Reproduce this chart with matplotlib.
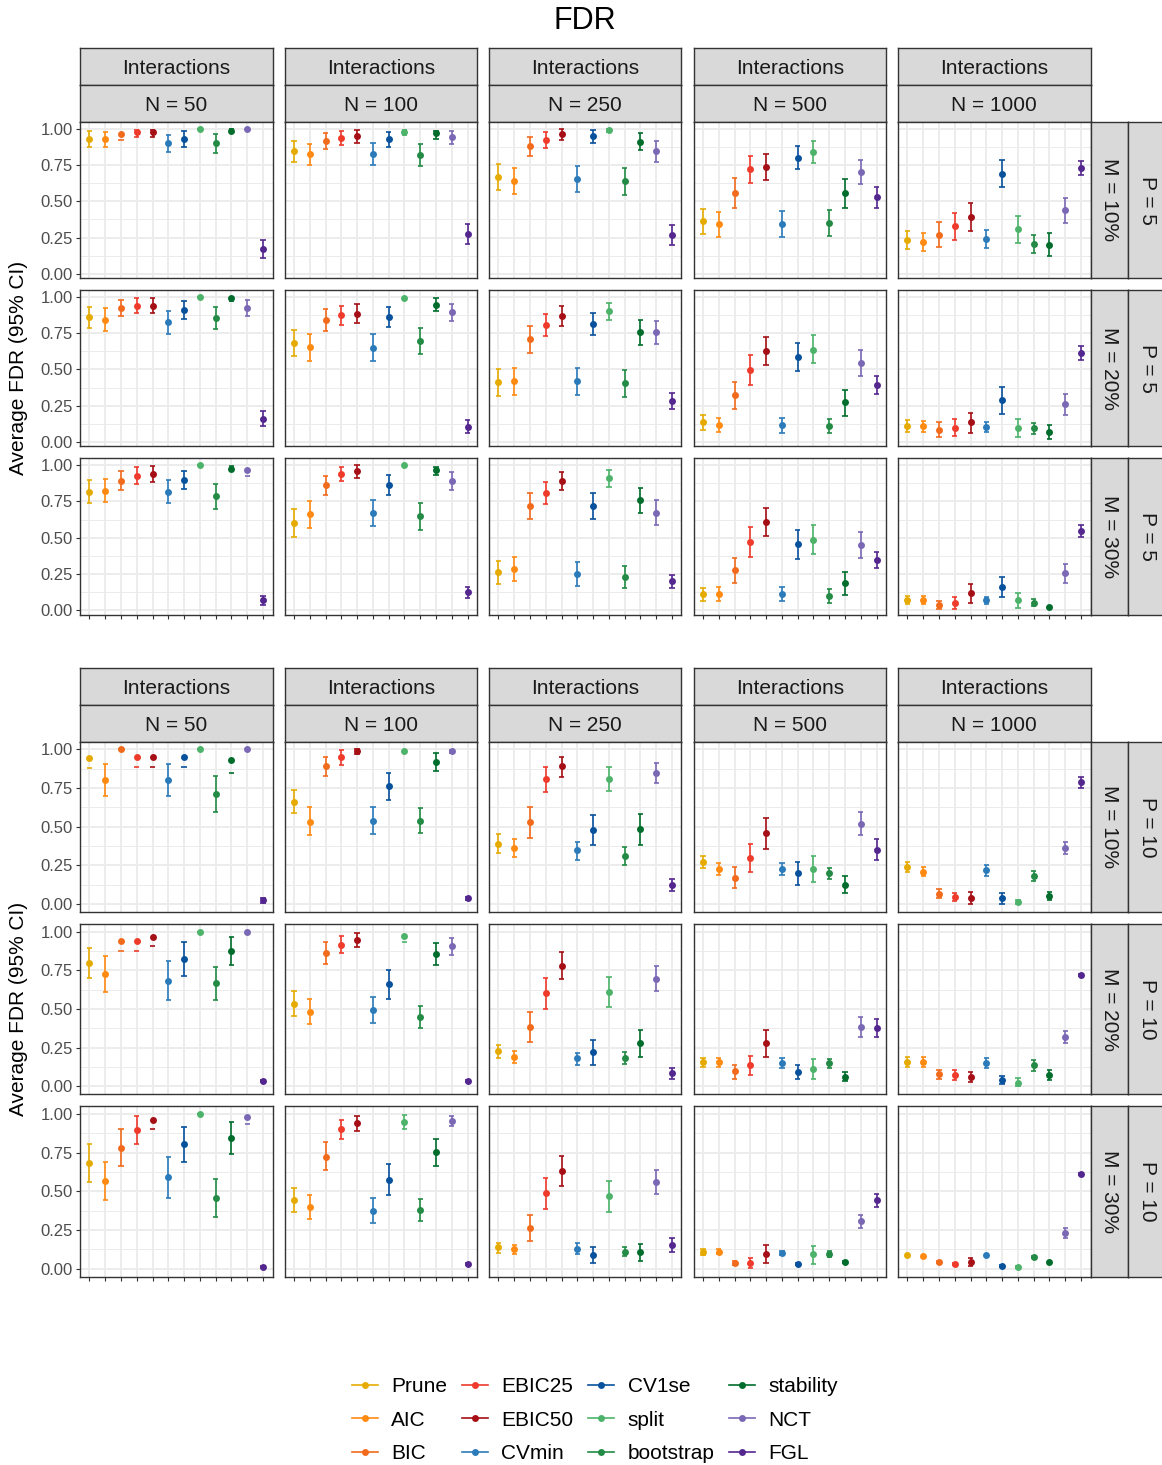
import numpy as np
import matplotlib
matplotlib.use("Agg")
import matplotlib.pyplot as plt
from matplotlib.lines import Line2D

plt.rcParams['font.family'] = ['Liberation Sans', 'DejaVu Sans']

# ---------------------------------------------------------------- data
methods = ["Prune", "AIC", "BIC", "EBIC25", "EBIC50", "CVmin",
           "CV1se", "split", "bootstrap", "stability", "NCT", "FGL"]
colors = ["#E6AB02", "#FF8A12", "#F26B1D", "#EF3B2C", "#A50F15", "#2B7BBA",
          "#08519C", "#4DB36A", "#238B45", "#006D2C", "#7B68B5", "#54278F"]
sample_sizes = ["N = 50", "N = 100", "N = 250", "N = 500", "N = 1000"]
missing_levels = ["M = 10%", "M = 20%", "M = 30%"]
node_counts = ["P = 5", "P = 10"]
model_label = "Interactions"

nan = np.nan

# P = 5 ; rows are N = 50, 100, 250, 500, 1000 ; columns follow `methods`
fdr_p5_m10 = [
    [0.929, 0.929, 0.963, 0.975, 0.975, 0.899, 0.926, 1.000, 0.899, 0.986, 1.000, 0.168],
    [0.846, 0.823, 0.917, 0.938, 0.947, 0.823, 0.926, 0.979, 0.818, 0.968, 0.940, 0.274],
    [0.667, 0.637, 0.878, 0.920, 0.961, 0.653, 0.947, 0.989, 0.639, 0.910, 0.846, 0.269],
    [0.363, 0.340, 0.559, 0.720, 0.738, 0.343, 0.800, 0.841, 0.352, 0.554, 0.701, 0.526],
    [0.234, 0.221, 0.271, 0.329, 0.393, 0.241, 0.690, 0.308, 0.207, 0.200, 0.437, 0.731]]
lo_p5_m10 = [
    [0.874, 0.874, 0.922, 0.945, 0.945, 0.841, 0.871, 1.000, 0.834, 0.970, 1.000, 0.106],
    [0.772, 0.749, 0.860, 0.887, 0.901, 0.749, 0.871, 0.956, 0.743, 0.929, 0.894, 0.209],
    [0.579, 0.547, 0.811, 0.864, 0.922, 0.563, 0.899, 0.980, 0.545, 0.851, 0.772, 0.200],
    [0.276, 0.253, 0.455, 0.628, 0.648, 0.253, 0.722, 0.763, 0.260, 0.455, 0.616, 0.455],
    [0.170, 0.156, 0.182, 0.234, 0.294, 0.177, 0.598, 0.214, 0.143, 0.120, 0.349, 0.678]]
hi_p5_m10 = [
    [0.984, 0.979, nan, 0.990, 0.990, 0.956, 0.984, 1.000, 0.963, 1.000, 1.000, 0.230],
    [0.917, 0.897, 0.970, 0.986, 0.991, 0.899, 0.979, 0.990, 0.894, 0.984, 0.986, 0.340],
    [0.754, 0.729, 0.943, 0.975, 0.998, 0.740, 0.991, 0.995, 0.731, 0.968, 0.915, 0.336],
    [0.446, 0.423, 0.660, 0.809, 0.828, 0.430, 0.880, 0.915, 0.439, 0.655, 0.784, 0.595],
    [0.294, 0.283, 0.354, 0.421, 0.490, 0.301, 0.782, 0.400, 0.267, 0.278, 0.524, 0.779]]

fdr_p5_m20 = [
    [0.860, 0.844, 0.924, 0.940, 0.940, 0.825, 0.910, 1.000, 0.855, 0.989, 0.924, 0.161],
    [0.683, 0.655, 0.844, 0.876, 0.883, 0.651, 0.864, 0.989, 0.697, 0.947, 0.897, 0.106],
    [0.414, 0.421, 0.708, 0.809, 0.869, 0.418, 0.816, 0.901, 0.407, 0.759, 0.756, 0.283],
    [0.136, 0.117, 0.326, 0.499, 0.628, 0.115, 0.589, 0.637, 0.110, 0.274, 0.547, 0.393],
    [0.110, 0.108, 0.085, 0.099, 0.136, 0.103, 0.287, 0.099, 0.094, 0.067, 0.260, 0.614]]
lo_p5_m20 = [
    [0.789, 0.763, 0.867, 0.887, 0.887, 0.743, 0.846, 1.000, 0.779, 0.972, 0.871, 0.108],
    [0.591, 0.559, 0.768, 0.805, 0.818, 0.556, 0.795, 0.982, 0.605, 0.901, 0.837, 0.060],
    [0.320, 0.326, 0.616, 0.731, 0.802, 0.322, 0.736, 0.839, 0.313, 0.671, 0.678, 0.225],
    [0.080, 0.067, 0.230, 0.395, 0.531, 0.064, 0.490, 0.543, 0.060, 0.182, 0.455, 0.331],
    [0.071, 0.071, 0.032, 0.041, 0.064, 0.069, 0.195, 0.037, 0.057, 0.018, 0.186, 0.566]]
hi_p5_m20 = [
    [0.929, 0.922, 0.979, 0.991, 0.991, 0.906, 0.970, 1.000, 0.929, 1.000, 0.975, 0.214],
    [0.770, 0.747, 0.917, 0.940, 0.949, 0.743, 0.933, 0.995, 0.784, 0.991, 0.954, 0.149],
    [0.506, 0.513, 0.798, 0.885, 0.936, 0.513, 0.892, 0.961, 0.497, 0.844, 0.832, 0.338],
    [0.189, 0.166, 0.416, 0.600, 0.726, 0.163, 0.685, 0.736, 0.159, 0.361, 0.637, 0.455],
    [0.149, 0.145, 0.136, 0.156, 0.202, 0.138, 0.379, 0.159, 0.131, 0.115, 0.329, 0.660]]

fdr_p5_m30 = [
    [0.816, 0.823, 0.892, 0.926, 0.938, 0.816, 0.899, 1.000, 0.784, 0.975, 0.963, 0.071],
    [0.602, 0.662, 0.860, 0.938, 0.956, 0.669, 0.864, 1.000, 0.646, 0.968, 0.887, 0.124],
    [0.264, 0.285, 0.717, 0.809, 0.890, 0.251, 0.720, 0.910, 0.232, 0.756, 0.669, 0.202],
    [0.110, 0.113, 0.278, 0.471, 0.607, 0.115, 0.457, 0.487, 0.101, 0.189, 0.451, 0.347],
    [0.074, 0.071, 0.037, 0.051, 0.120, 0.071, 0.163, 0.071, 0.053, 0.023, 0.255, 0.547]]
lo_p5_m30 = [
    [0.736, 0.747, 0.825, 0.871, 0.885, 0.736, 0.834, 1.000, 0.697, 0.956, 0.922, 0.037],
    [0.506, 0.568, 0.793, 0.890, 0.913, 0.577, 0.795, 1.000, 0.552, 0.931, 0.825, 0.083],
    [0.184, 0.202, 0.628, 0.731, 0.825, 0.170, 0.628, 0.848, 0.156, 0.669, 0.584, 0.156],
    [0.064, 0.067, 0.191, 0.370, 0.510, 0.067, 0.356, 0.386, 0.053, 0.108, 0.363, 0.294],
    [0.046, 0.044, 0.007, 0.009, 0.053, 0.046, 0.090, 0.018, 0.032, 0.015, 0.191, 0.506]]
hi_p5_m30 = [
    [0.894, 0.903, 0.959, 0.984, 0.991, 0.899, 0.961, 1.000, 0.867, 0.991, nan, 0.099],
    [0.694, 0.754, 0.926, 0.984, 0.998, 0.761, 0.933, 1.000, 0.736, 0.984, 0.949, 0.163],
    [0.340, 0.368, 0.807, 0.885, 0.949, 0.329, 0.807, 0.963, 0.303, 0.844, 0.756, 0.246],
    [0.156, 0.161, 0.363, 0.570, 0.703, 0.161, 0.554, 0.586, 0.147, 0.264, 0.536, 0.398],
    [0.099, 0.099, 0.064, 0.090, 0.179, 0.094, 0.230, 0.120, 0.076, 0.032, 0.317, 0.584]]

# P = 10
fdr_p10_m10 = [
    [0.946, 0.804, 1.000, 0.953, 0.953, 0.802, 0.953, 1.000, 0.711, 0.929, 1.000, 0.026],
    [0.662, 0.534, 0.890, 0.948, 0.989, 0.539, 0.761, 0.989, 0.539, 0.918, 0.989, 0.039],
    [0.392, 0.366, 0.528, 0.806, 0.892, 0.349, 0.478, 0.810, 0.313, 0.483, 0.847, 0.123],
    [0.274, 0.228, 0.172, 0.297, 0.457, 0.228, 0.203, 0.226, 0.200, 0.125, 0.519, 0.353],
    [0.239, 0.209, 0.067, 0.045, 0.041, 0.218, 0.037, 0.011, 0.181, 0.052, 0.364, 0.789]]
lo_p10_m10 = [
    [0.877, 0.698, 1.000, 0.888, 0.888, 0.698, 0.888, 1.000, 0.595, 0.849, 1.000, 0.010],
    [0.586, 0.446, 0.828, 0.901, 0.968, 0.453, 0.675, 0.980, 0.457, 0.862, 0.980, 0.030],
    [0.330, 0.308, 0.429, 0.724, 0.825, 0.287, 0.381, 0.731, 0.252, 0.381, 0.782, 0.082],
    [0.231, 0.188, 0.103, 0.207, 0.356, 0.188, 0.127, 0.142, 0.164, 0.071, 0.446, 0.284],
    [0.207, 0.181, 0.037, 0.019, 0.004, 0.185, 0.004, 0.000, 0.147, 0.024, 0.325, 0.752]]
hi_p10_m10 = [
    [nan, 0.909, 1.000, nan, nan, 0.905, nan, 1.000, 0.828, nan, 1.000, 0.040],
    [0.737, 0.625, 0.953, 0.994, 1.000, 0.629, 0.845, 0.998, 0.623, 0.974, 0.998, 0.048],
    [0.453, 0.420, 0.629, 0.884, 0.953, 0.403, 0.575, 0.886, 0.369, 0.582, 0.912, 0.164],
    [0.313, 0.267, 0.237, 0.386, 0.554, 0.267, 0.274, 0.310, 0.235, 0.181, 0.593, 0.418],
    [0.272, 0.237, 0.097, 0.071, 0.080, 0.250, 0.069, 0.025, 0.216, 0.080, 0.401, 0.823]]

fdr_p10_m20 = [
    [0.800, 0.724, 0.942, 0.942, 0.963, 0.683, 0.825, 1.000, 0.666, 0.875, 1.000, 0.032],
    [0.534, 0.483, 0.864, 0.916, 0.948, 0.494, 0.659, 0.972, 0.450, 0.858, 0.905, 0.032],
    [0.226, 0.192, 0.386, 0.601, 0.780, 0.181, 0.220, 0.610, 0.183, 0.278, 0.696, 0.086],
    [0.155, 0.155, 0.097, 0.138, 0.278, 0.151, 0.095, 0.114, 0.149, 0.062, 0.386, 0.379],
    [0.157, 0.157, 0.080, 0.071, 0.060, 0.151, 0.039, 0.024, 0.138, 0.073, 0.319, 0.722]]
lo_p10_m20 = [
    [0.698, 0.608, 0.877, 0.877, 0.905, 0.558, 0.716, 1.000, 0.560, 0.784, 1.000, 0.025],
    [0.455, 0.401, 0.793, 0.860, 0.901, 0.409, 0.565, 0.933, 0.377, 0.787, 0.847, 0.025],
    [0.183, 0.151, 0.289, 0.502, 0.694, 0.140, 0.140, 0.513, 0.147, 0.190, 0.616, 0.050],
    [0.125, 0.125, 0.045, 0.075, 0.190, 0.121, 0.050, 0.050, 0.121, 0.032, 0.321, 0.319],
    [0.127, 0.127, 0.050, 0.039, 0.028, 0.119, 0.013, 0.000, 0.101, 0.041, 0.280, 0.715]]
hi_p10_m20 = [
    [0.897, 0.841, nan, nan, nan, 0.808, 0.931, 1.000, 0.772, 0.968, 1.000, 0.040],
    [0.614, 0.567, 0.931, 0.972, 0.994, 0.578, 0.752, nan, 0.519, 0.929, 0.961, 0.040],
    [0.269, 0.231, 0.481, 0.698, 0.866, 0.218, 0.300, 0.707, 0.222, 0.364, 0.776, 0.119],
    [0.183, 0.183, 0.140, 0.198, 0.364, 0.183, 0.140, 0.177, 0.177, 0.093, 0.448, 0.435],
    [0.188, 0.188, 0.108, 0.103, 0.093, 0.183, 0.069, 0.054, 0.172, 0.103, 0.356, 0.729]]

fdr_p10_m30 = [
    [0.683, 0.565, 0.780, 0.897, 0.959, 0.591, 0.802, 1.000, 0.459, 0.843, 0.981, 0.011],
    [0.444, 0.401, 0.724, 0.899, 0.938, 0.375, 0.575, 0.948, 0.379, 0.752, 0.953, 0.030],
    [0.138, 0.127, 0.263, 0.487, 0.629, 0.129, 0.086, 0.466, 0.110, 0.106, 0.558, 0.153],
    [0.108, 0.108, 0.034, 0.037, 0.097, 0.099, 0.028, 0.093, 0.095, 0.041, 0.306, 0.444],
    [0.086, 0.084, 0.041, 0.030, 0.041, 0.088, 0.017, 0.009, 0.073, 0.041, 0.228, 0.612]]
lo_p10_m30 = [
    [0.560, 0.442, 0.664, 0.808, 0.901, 0.457, 0.688, 1.000, 0.336, 0.739, 0.935, 0.005],
    [0.366, 0.323, 0.636, 0.836, 0.888, 0.295, 0.476, 0.901, 0.310, 0.666, 0.920, 0.024],
    [0.103, 0.095, 0.177, 0.388, 0.532, 0.097, 0.034, 0.366, 0.080, 0.047, 0.481, 0.106],
    [0.090, 0.092, 0.022, 0.004, 0.037, 0.086, 0.020, 0.032, 0.073, 0.033, 0.265, 0.401],
    [0.080, 0.078, 0.035, 0.024, 0.017, 0.082, 0.011, 0.003, 0.067, 0.035, 0.200, 0.606]]
hi_p10_m30 = [
    [0.808, 0.690, 0.899, 0.985, nan, 0.724, 0.918, 1.000, 0.580, 0.946, nan, 0.017],
    [0.519, 0.476, 0.815, 0.959, 0.989, 0.453, 0.675, 0.994, 0.448, 0.838, 0.985, 0.036],
    [0.168, 0.155, 0.347, 0.586, 0.726, 0.162, 0.140, 0.565, 0.140, 0.159, 0.634, 0.196],
    [0.126, 0.124, 0.046, 0.067, 0.153, 0.112, 0.036, 0.149, 0.116, 0.049, 0.345, 0.483],
    [0.092, 0.090, 0.047, 0.036, 0.065, 0.094, 0.023, 0.015, 0.079, 0.047, 0.259, 0.618]]

y_breaks = [0.0, 0.25, 0.50, 0.75, 1.00]
y_tick_labels = ["0.00", "0.25", "0.50", "0.75", "1.00"]
y_minor = [0.125, 0.375, 0.625, 0.875]

# ---------------------------------------------------------------- layout
W, H = 1162, 1465
fig = plt.figure(figsize=(W / 100, H / 100), dpi=100)

STRIP_FILL = "#D9D9D9"
BORDER = "#333333"
GRID = "#EBEBEB"
TEXT = "#1A1A1A"
TICKTXT = "#4D4D4D"


def box(x0, y0, x1, y1):
    return [x0 / W, 1 - y1 / H, (x1 - x0) / W, (y1 - y0) / H]


def strip(x0, y0, x1, y1, label, rotation=0):
    ax = fig.add_axes(box(x0, y0, x1, y1))
    ax.set_facecolor(STRIP_FILL)
    ax.set_xticks([])
    ax.set_yticks([])
    for s in ax.spines.values():
        s.set_color(BORDER)
        s.set_linewidth(1.0)
    if rotation:
        tx, ty = 0.5, 0.5
    else:
        tx, ty = 0.5, 0.45
    ax.text(tx, ty, label, transform=ax.transAxes, ha="center", va="center",
            fontsize=15, color=TEXT, rotation=rotation)
    return ax


def draw_panel(ax, mean, lo, hi, ylim, show_y, show_x):
    xs = np.arange(1, len(methods) + 1)
    ax.set_xlim(0.4, len(methods) + 0.6)
    ax.set_ylim(*ylim)
    ax.set_xticks(xs)
    ax.set_yticks(y_breaks)
    ax.set_yticks(y_minor, minor=True)
    ax.grid(which="major", color=GRID, linewidth=1.35)
    ax.grid(which="minor", axis="y", color=GRID, linewidth=0.7)
    ax.set_axisbelow(True)
    for s in ax.spines.values():
        s.set_color(BORDER)
        s.set_linewidth(1.0)
    ax.tick_params(which="minor", length=0)
    ax.tick_params(axis="x", labelbottom=False, length=3 if show_x else 0,
                   width=0.8, color=BORDER)
    if show_y:
        ax.set_yticklabels(y_tick_labels)
        ax.tick_params(axis="y", length=3, width=0.8, color=BORDER,
                       labelsize=12, labelcolor=TICKTXT, pad=2)
    else:
        ax.tick_params(axis="y", length=0, labelleft=False)

    cap = 0.17
    for i, c in enumerate(colors):
        m, l, h = mean[i], lo[i], hi[i]
        if np.isnan(h):
            ax.hlines(l, xs[i] - cap, xs[i] + cap, color=c, linewidth=1.2)
        else:
            ax.vlines(xs[i], l, h, color=c, linewidth=1.2)
            ax.hlines([l, h], xs[i] - cap, xs[i] + cap, color=c, linewidth=1.2)
        ax.plot(xs[i], m, "o", color=c, markersize=5, markeredgewidth=0, zorder=3)


col_x = [(80 + k * 204.5, 80 + k * 204.5 + 192.5) for k in range(5)]

blocks = [
    dict(p=node_counts[0], strip_top=48, row_top=121.7, row_h=156.5, row_step=168.2,
         ylim=(-0.030, 1.048),
         series=[(fdr_p5_m10, lo_p5_m10, hi_p5_m10),
                 (fdr_p5_m20, lo_p5_m20, hi_p5_m20),
                 (fdr_p5_m30, lo_p5_m30, hi_p5_m30)]),
    dict(p=node_counts[1], strip_top=668, row_top=741.7, row_h=170.5, row_step=182.2,
         ylim=(-0.052, 1.050),
         series=[(fdr_p10_m10, lo_p10_m10, hi_p10_m10),
                 (fdr_p10_m20, lo_p10_m20, hi_p10_m20),
                 (fdr_p10_m30, lo_p10_m30, hi_p10_m30)]),
]

for blk in blocks:
    st = blk["strip_top"]
    mid = (st + blk["row_top"]) / 2
    for c, (x0, x1) in enumerate(col_x):
        strip(x0, st, x1, mid, model_label)
        strip(x0, mid, x1, blk["row_top"], sample_sizes[c])
    for r in range(3):
        y0 = blk["row_top"] + r * blk["row_step"]
        y1 = y0 + blk["row_h"]
        mean_r, lo_r, hi_r = blk["series"][r]
        for c, (x0, x1) in enumerate(col_x):
            ax = fig.add_axes(box(x0, y0, x1, y1))
            draw_panel(ax, mean_r[c], lo_r[c], hi_r[c], blk["ylim"],
                       show_y=(c == 0), show_x=(r == 2))
        strip(col_x[-1][1], y0, 1128, y1, missing_levels[r], rotation=270)
        strip(1128, y0, 1167, y1, blk["p"], rotation=270)
    yc = (blk["row_top"] + blk["row_top"] + 2 * blk["row_step"] + blk["row_h"]) / 2
    fig.text(19 / W, 1 - yc / H, "Average FDR (95% CI)", rotation=90,
             ha="center", va="center", fontsize=15, color="black")

fig.text(585 / W, 1 - 21 / H, "FDR", ha="center", va="center", fontsize=22, color="black")

handles = [Line2D([0], [0], color=c, marker="o", markersize=5, linewidth=1.2,
                  markeredgewidth=0) for c in colors]
fig.legend(handles, methods, ncol=4, loc="center", bbox_to_anchor=(595 / W, 1 - 1420 / H),
           frameon=False, fontsize=15, numpoints=1, handlelength=1.25,
           handletextpad=0.65, columnspacing=0.7, labelspacing=0.7)

fig.savefig("out.png", dpi=100)
